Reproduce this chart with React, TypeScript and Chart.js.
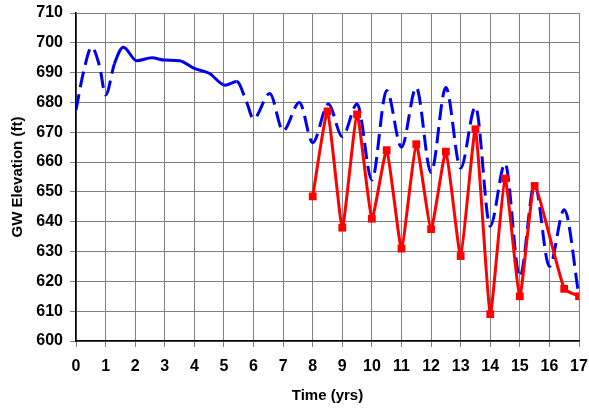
import { useEffect, useRef } from "react";
import { Chart, registerables } from "chart.js";

Chart.register(...registerables);

// Blue simulated groundwater elevation (time in years, elevation in ft)
const blueTimes = [0, 0.25, 0.53, 0.8, 1.0, 1.3, 1.6, 2.05, 2.56, 3.0, 3.5, 4.0, 4.5, 5.04, 5.43, 5.77, 6.0, 6.55, 7.0, 7.55, 8.0, 8.53, 9.0, 9.5, 10.0, 10.5, 11.0, 11.5, 12.0, 12.5, 13.0, 13.5, 14.0, 14.5, 15.0, 15.5, 16.0, 16.5, 17.0];
const blueElev = [677.5, 690, 698.5, 692, 682.5, 693, 698.5, 694, 695, 694.2, 694, 691.4, 689.8, 685.8, 687, 680, 674.5, 683, 670.5, 680, 666.5, 679.5, 668.5, 679.5, 654, 684, 665, 685, 656.5, 685, 658, 678.5, 638.5, 659.5, 621.5, 652.5, 625, 644, 615];

// Red observed groundwater elevation
const redTimes = [8, 8.5, 9, 9.5, 10, 10.5, 11, 11.5, 12, 12.5, 13, 13.5, 14, 14.5, 15, 15.5, 16.5, 17];
const redElev = [648.5, 677, 638, 676, 641, 664, 631, 666, 637.5, 663.5, 628.5, 671, 609, 654.5, 615, 652, 617.5, 615];

const xMin = 0;
const xMax = 17;
const yMin = 600;
const yMax = 710;
const xLabel = "Time (yrs)";
const yLabel = "GW Elevation (ft)";

const solidFrom = 1.3;
const solidTo = 5.43;

export default function App() {
  const canvasRef = useRef<HTMLCanvasElement | null>(null);

  useEffect(() => {
    const canvas = canvasRef.current;
    if (!canvas) return;
    const tickFont = { family: "Arial, 'Liberation Sans', sans-serif", size: 16, weight: "bold" as const };
    const titleFont = { family: "Arial, 'Liberation Sans', sans-serif", size: 15, weight: "bold" as const };
    const chart = new Chart(canvas, {
      type: "line",
      data: {
        datasets: [
          {
            label: "Observed",
            data: redTimes.map((t, i) => ({ x: t, y: redElev[i] })),
            borderColor: "#ff0000",
            backgroundColor: "#ff0000",
            borderWidth: 3,
            pointStyle: "rect",
            pointRadius: 5.5,
            pointBorderWidth: 0,
            tension: 0.15,
            fill: false,
          },
          {
            label: "Simulated",
            data: blueTimes.map((t, i) => ({ x: t, y: blueElev[i] })),
            borderColor: "#0000f0",
            borderWidth: 3,
            pointRadius: 0,
            cubicInterpolationMode: "monotone",
            fill: false,
            borderCapStyle: "butt",
            segment: {
              borderDash: (ctx: any) =>
                ctx.p0.parsed.x >= solidFrom - 0.001 && ctx.p1.parsed.x <= solidTo + 0.001 ? [] : [16, 7],
            },
          },
        ],
      },
      options: {
        animation: false,
        responsive: false,
        maintainAspectRatio: false,
        layout: { padding: { top: 13, right: 10, left: 5, bottom: 0 } },
        plugins: { legend: { display: false }, tooltip: { enabled: false } },
        scales: {
          x: {
            type: "linear",
            min: xMin,
            max: xMax,
            ticks: { stepSize: 1, color: "#000", font: tickFont, padding: 10 },
            grid: { color: "#808080", tickColor: "#808080", tickLength: 6, lineWidth: 1 },
            border: { color: "#000", width: 1.5 },
            title: { display: true, text: xLabel, color: "#000", font: titleFont, padding: { top: 8 } },
            afterFit: (scale: any) => {
              scale.height = 68;
              scale.paddingLeft = 0;
              scale.paddingRight = 0;
            },
          },
          y: {
            type: "linear",
            min: yMin,
            max: yMax,
            ticks: { stepSize: 10, color: "#000", font: tickFont, padding: 7 },
            grid: { color: "#808080", tickColor: "#808080", tickLength: 6, lineWidth: 1 },
            border: { color: "#000", width: 1.5 },
            title: { display: true, text: yLabel, color: "#000", font: titleFont, padding: { bottom: 4 } },
            afterFit: (scale: any) => {
              scale.width = 71;
              scale.paddingTop = 0;
              scale.paddingBottom = 0;
            },
          },
        },
      },
    });
    return () => chart.destroy();
  }, []);

  return (
    <div style={{ position: "absolute", left: 0, top: 0, width: 589, height: 409, background: "#fff" }}>
      <canvas ref={canvasRef} width={589} height={409} style={{ width: 589, height: 409 }} />
    </div>
  );
}
